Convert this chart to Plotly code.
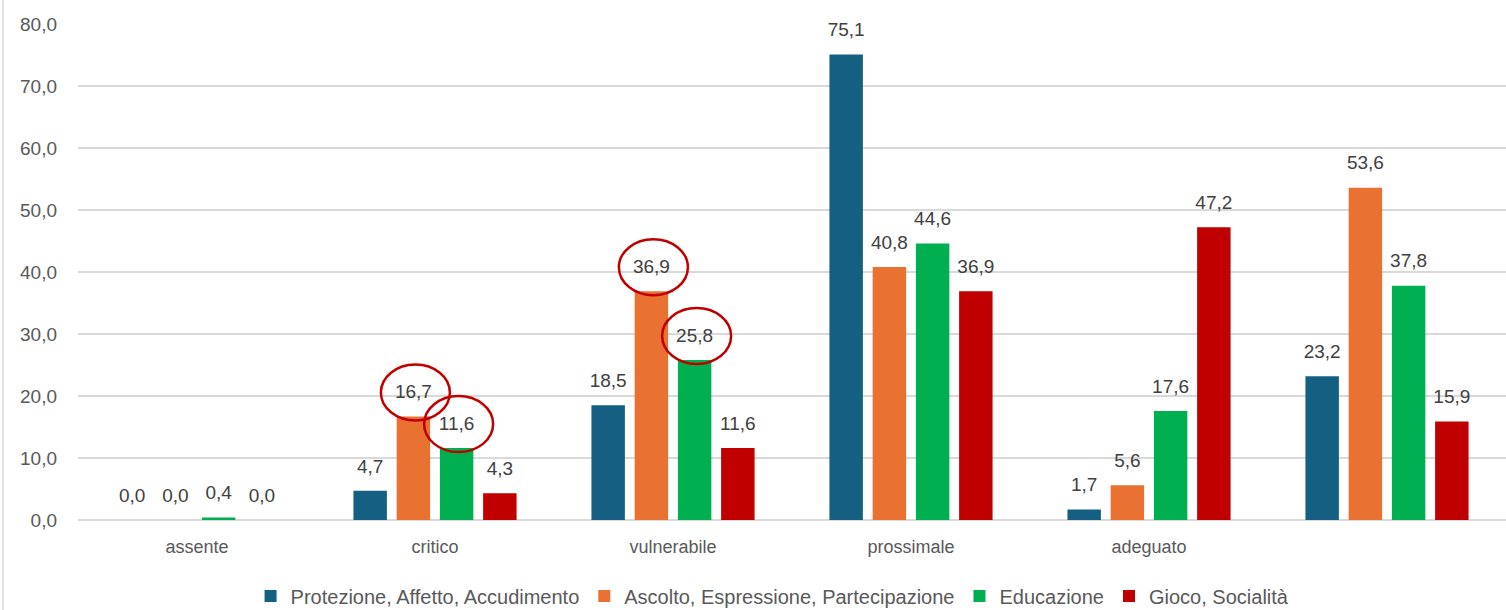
import plotly.graph_objects as go

CATEGORIES = ["assente", "critico", "vulnerabile", "prossimale", "adeguato", " "]
SERIES = [
    "Protezione, Affetto, Accudimento",
    "Ascolto, Espressione, Partecipazione",
    "Educazione",
    "Gioco, Socialità",
]
PROTEZIONE = [0.0, 4.7, 18.5, 75.1, 1.7, 23.2]
ASCOLTO = [0.0, 16.7, 36.9, 40.8, 5.6, 53.6]
EDUCAZIONE = [0.4, 11.6, 25.8, 44.6, 17.6, 37.8]
GIOCO = [0.0, 4.3, 11.6, 36.9, 47.2, 15.9]
VALUES = [PROTEZIONE, ASCOLTO, EDUCAZIONE, GIOCO]
Y_TICKS = [0, 10, 20, 30, 40, 50, 60, 70, 80]
# (category, series) labels highlighted with a red ellipse
HIGHLIGHTS = [("critico", 1), ("critico", 2), ("vulnerabile", 1), ("vulnerabile", 2)]

COLORS = ["#156082", "#E97132", "#00B050", "#C00000"]
FONT = "'Liberation Sans', Arial, sans-serif"
BARGAP = 0.2735
BARGROUPGAP = 0.226

fig = go.Figure()
for name, vals, col in zip(SERIES, VALUES, COLORS):
    fig.add_trace(go.Bar(
        x=CATEGORIES, y=vals, name=name, marker=dict(color=col, line=dict(width=0)),
        hoverinfo="skip",
    ))
for name, vals, col in zip(SERIES, VALUES, COLORS):
    fig.add_trace(go.Scatter(
        x=CATEGORIES, y=vals, mode="markers+text", showlegend=False,
        marker=dict(size=20, opacity=0), texttemplate="%{y:.1f}",
        textposition="top center", textfont=dict(family=FONT, size=19, color="#404040"),
        hoverinfo="skip", cliponaxis=False,
    ))

# red ellipses around highlighted labels
slot = (1 - BARGAP) / len(SERIES)
for cat, k in HIGHLIGHTS:
    i = CATEGORIES.index(cat)
    xc = i + (k - (len(SERIES) - 1) / 2) * slot
    yv = VALUES[k][i]
    fig.add_shape(
        type="circle", xref="x", yref="y", xsizemode="pixel", ysizemode="pixel",
        xanchor=xc, yanchor=yv, x0=2 - 34.5, x1=2 + 34.5, y0=24 - 28, y1=24 + 28,
        line=dict(color="#C00000", width=2.5), fillcolor="rgba(0,0,0,0)", layer="above",
    )

# chart border on the left
fig.add_shape(type="line", xref="paper", yref="paper", xsizemode="pixel", xanchor=0,
              x0=-75, x1=-75, y0=-90 / 496, y1=1 + 24 / 496,
              line=dict(color="#D9D9D9", width=1.5))

fig.update_layout(
    width=1506, height=610,
    margin=dict(l=78, r=0, t=24, b=90, autoexpand=False),
    paper_bgcolor="white", plot_bgcolor="white",
    separators=",.",
    barmode="group", bargap=BARGAP, bargroupgap=BARGROUPGAP,
    scattermode="group", scattergap=BARGAP,
    font=dict(family=FONT, size=18, color="#595959"),
    showlegend=True,
    legend=dict(orientation="h", xref="container", yref="paper",
                x=0.513, y=-(596 - 520) / 496, xanchor="center", yanchor="middle",
                font=dict(family=FONT, size=20, color="#595959"),
                itemclick=False, itemdoubleclick=False),
    xaxis=dict(type="category", showgrid=False, zeroline=False, showline=False,
               ticks="", ticklabelstandoff=14, automargin=False,
               tickfont=dict(family=FONT, size=18, color="#595959")),
    yaxis=dict(range=[0, 80], tickvals=Y_TICKS, tickformat=".1f", automargin=False,
               showgrid=True, gridcolor="#D9D9D9", gridwidth=1.5,
               zeroline=True, zerolinecolor="#D9D9D9", zerolinewidth=1.5,
               showline=False, ticks="", ticklabelstandoff=20,
               tickfont=dict(family=FONT, size=19, color="#595959")),
)

fig.write_html("out.html", config={"displayModeBar": False},
               post_script="document.body.style.margin='0';document.body.style.overflow='hidden';")
